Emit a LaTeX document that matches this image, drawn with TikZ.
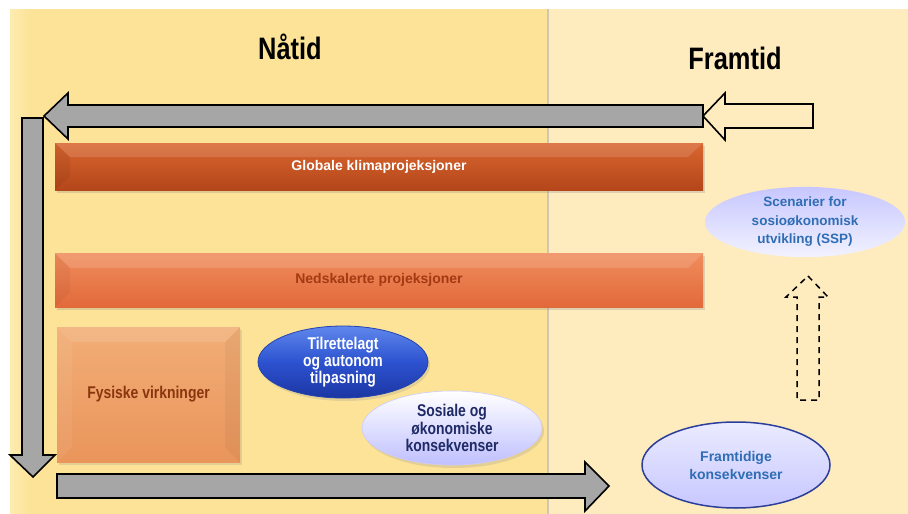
\documentclass[tikz,border=0pt]{standalone}
\usepackage{fontspec}
\setmainfont{Liberation Sans}
\newfontfamily\narrowfont[FakeStretch=0.82]{Liberation Sans}
\usetikzlibrary{shapes.geometric,shadows}
\definecolor{leftbg}{HTML}{FCE398}
\definecolor{leftbglight}{HTML}{FDEBB0}
\definecolor{rightbg}{HTML}{FEEBBE}
\definecolor{divider}{HTML}{CFC6B4}
\definecolor{arrowgrey}{HTML}{A6A6A6}
\definecolor{globtop}{HTML}{D9662F}
\definecolor{globbot}{HTML}{B4461A}
\definecolor{nedtop}{HTML}{F08D5D}
\definecolor{nedbot}{HTML}{E2693A}
\definecolor{nedtext}{HTML}{A33A14}
\definecolor{fystop}{HTML}{F2AE76}
\definecolor{fysbot}{HTML}{E9955B}
\definecolor{fystext}{HTML}{8A3510}
\definecolor{bluetop}{HTML}{5F88EC}
\definecolor{bluemid}{HTML}{2D52D0}
\definecolor{bluebot}{HTML}{1B36A2}
\definecolor{blueline}{HTML}{2443B0}
\definecolor{navytext}{HTML}{1F2A66}
\definecolor{ssptext}{HTML}{2F6DB5}
\definecolor{framline}{HTML}{2B3F9A}
\tikzset{
  blockarrow/.style={draw=black, line width=1.6pt, line join=miter, fill=arrowgrey},
  hollowarrow/.style={draw=black, line width=1.6pt, line join=miter, fill=rightbg},
  dashedarrow/.style={draw=black, line width=1.5pt, dashed, dash pattern=on 6pt off 5pt},
  title/.style={font=\narrowfont\bfseries\fontsize{31}{33}\selectfont, text=black},
  bar/.style={rectangle, inner sep=0pt, minimum width=648pt, drop shadow={opacity=0.25, shadow xshift=2pt, shadow yshift=-3pt}},
  globbar/.style={bar, minimum height=47pt, top color=globtop, bottom color=globbot,
     text=white, font=\bfseries\fontsize{14}{16}\selectfont},
  nedbar/.style={bar, minimum height=54pt, top color=nedtop, bottom color=nedbot,
     text=nedtext, font=\bfseries\fontsize{14}{16}\selectfont},
  fysbox/.style={rectangle, inner sep=0pt, minimum width=183pt, minimum height=135pt,
     top color=fystop, bottom color=fysbot, text=fystext,
     font=\narrowfont\bfseries\fontsize{17}{18}\selectfont,
     drop shadow={opacity=0.2, shadow xshift=2pt, shadow yshift=-3pt}},
  ellbase/.style={ellipse, inner sep=0pt, align=center},
  tilrell/.style={ellbase, minimum width=170pt, minimum height=72pt, draw=blueline, line width=0.8pt,
     top color=bluetop, bottom color=bluebot, middle color=bluemid, text=white,
     font=\narrowfont\bfseries\fontsize{17}{17}\selectfont,
     drop shadow={opacity=0.2, shadow xshift=2pt, shadow yshift=-3pt}},
  sosell/.style={ellbase, minimum width=180pt, minimum height=74pt, draw=blue!20, line width=0.6pt,
     top color=white, bottom color=blue!25!white, text=navytext,
     font=\narrowfont\bfseries\fontsize{17}{17.5}\selectfont,
     drop shadow={opacity=0.2, shadow xshift=2pt, shadow yshift=-3pt}},
  sspell/.style={ellbase, minimum width=200pt, minimum height=62pt,
     top color=blue!22!white, bottom color=blue!5!white, text=ssptext,
     font=\bfseries\fontsize{13.5}{18.5}\selectfont},
  framell/.style={ellbase, minimum width=188pt, minimum height=86pt, draw=framline, line width=1.5pt,
     top color=blue!8!white, bottom color=blue!22!white, text=ssptext,
     font=\bfseries\fontsize{14}{18}\selectfont}
}
\begin{document}
\begin{tikzpicture}[x=1pt,y=-1pt]
\useasboundingbox (0,0) rectangle (908,514);
\fill[white] (0,0) rectangle (908,514);
% panels
\shade[left color=leftbglight, right color=leftbg] (10,9) rectangle (30,514);
\fill[leftbg] (30,9) rectangle (548,514);
\fill[rightbg] (548,9) rectangle (908,514);
\draw[divider, line width=1.2pt] (548,9) -- (548,514);

% titles
\node[title] (natid) at (290,47) {Nåtid};
\node[title] (framtid) at (735,58) {Framtid};

% top grey arrow (pointing left)
\draw[blockarrow] (44,116) -- (68,93) -- (68,105) -- (703,105) -- (703,127) -- (68,127) -- (68,139) -- cycle;
% hollow arrow (pointing left) at top right
\draw[hollowarrow] (703,116) -- (725,93) -- (725,104) -- (813,104) -- (813,128) -- (725,128) -- (725,140) -- cycle;
% left vertical arrow (pointing down)
\draw[blockarrow] (22,118) -- (43,118) -- (43,455) -- (55,455) -- (33,477) -- (10,455) -- (22,455) -- cycle;
% bottom arrow (pointing right)
\draw[blockarrow] (57,474) -- (585,474) -- (585,462) -- (609,486) -- (585,511) -- (585,498) -- (57,498) -- cycle;

% bars
\node[globbar] (glob) at (379,166.5) {Globale klimaprojeksjoner};
\fill[white, opacity=0.13] (55,143) -- (703,143) -- (688,157) -- (70,157) -- cycle;
\fill[black, opacity=0.06] (55,143) -- (70,157) -- (70,176) -- (55,190) -- cycle;
\node[nedbar] (ned) at (379,280) {Nedskalerte projeksjoner};
\fill[white, opacity=0.13] (55,253) -- (703,253) -- (688,268) -- (70,268) -- cycle;
\fill[black, opacity=0.04] (55,253) -- (70,268) -- (70,292) -- (55,307) -- cycle;

% physical impacts box
\node[fysbox] (fys) at (148.5,394.5) {Fysiske virkninger};
\fill[white, opacity=0.12] (57,327) -- (240,327) -- (225,342) -- (72,342) -- cycle;
\fill[white, opacity=0.06] (57,327) -- (72,342) -- (72,447) -- (57,462) -- cycle;
\fill[black, opacity=0.04] (240,327) -- (225,342) -- (225,447) -- (240,462) -- cycle;

% ellipses
\node[tilrell] (tilr) at (343,362) {Tilrettelagt\\og autonom\\tilpasning};
\node[sosell] (sos) at (452,428) {Sosiale og\\økonomiske\\konsekvenser};
\node[sspell] (ssp) at (805,222) {Scenarier for\\sosioøkonomisk\\utvikling (SSP)};
\node[framell] (fram) at (736,465) {Framtidige\\konsekvenser};

% dashed arrow (pointing up)
\draw[dashedarrow] (808,276) -- (828,297) -- (819,297) -- (819,400) -- (797,400) -- (797,297) -- (786,297) -- cycle;
\end{tikzpicture}
\end{document}
